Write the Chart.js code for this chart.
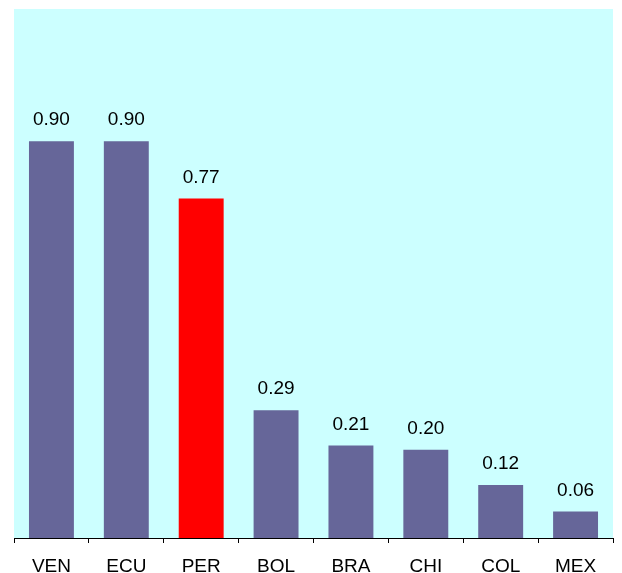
<!DOCTYPE html>
<html>
<head>
<meta charset="utf-8">
<script src="https://cdn.jsdelivr.net/npm/chart.js@4/dist/chart.umd.min.js"></script>
<style>
  html, body { margin: 0; padding: 0; background: #fff; }
  #wrap { width: 622px; height: 573px; position: relative; }
</style>
</head>
<body>
<div id="wrap"><canvas id="c"></canvas></div>
<script>
const countries = ['VEN', 'ECU', 'PER', 'BOL', 'BRA', 'CHI', 'COL', 'MEX'];
const values    = [0.90, 0.90, 0.77, 0.29, 0.21, 0.20, 0.12, 0.06];
const barColors = ['#666699', '#666699', '#FF0000', '#666699', '#666699', '#666699', '#666699', '#666699'];

const FONT = '"Liberation Sans", Arial, sans-serif';

// fond cyan de la zone de tracé
const plotBg = {
  id: 'plotBg',
  beforeDraw(chart) {
    const { ctx, chartArea: a } = chart;
    ctx.save();
    ctx.fillStyle = '#CCFFFF';
    ctx.fillRect(a.left, a.top, a.right - a.left, a.bottom - a.top);
    ctx.restore();
  }
};

// étiquettes de valeur au-dessus des barres
const valueLabels = {
  id: 'valueLabels',
  afterDatasetsDraw(chart) {
    const { ctx } = chart;
    const meta = chart.getDatasetMeta(0);
    ctx.save();
    ctx.font = '19px ' + FONT;
    ctx.fillStyle = '#000';
    ctx.textAlign = 'center';
    ctx.textBaseline = 'middle';
    meta.data.forEach((bar, i) => {
      ctx.fillText(values[i].toFixed(2), bar.x, bar.y - 21);
    });
    ctx.restore();
  }
};

new Chart(document.getElementById('c'), {
  type: 'bar',
  data: {
    labels: countries,
    datasets: [{
      data: values,
      backgroundColor: barColors,
      borderWidth: 0,
      barPercentage: 0.6,
      categoryPercentage: 1.0,
    }]
  },
  options: {
    responsive: true,
    maintainAspectRatio: false,
    animation: false,
    layout: { padding: { left: 14, right: 9, top: 9, bottom: 0 } },
    plugins: { legend: { display: false }, tooltip: { enabled: false } },
    scales: {
      x: {
        offset: true,
        grid: { offset: true, drawOnChartArea: false, drawTicks: true, tickLength: 5, color: '#000' },
        border: { display: true, color: '#000', width: 1 },
        ticks: { color: '#000', padding: 12, font: { size: 19, family: FONT } },
        afterFit: s => { s.height = 35; },
      },
      y: {
        display: false,
        min: 0,
        max: 1.2,
      }
    }
  },
  plugins: [plotBg, valueLabels]
});
</script>
</body>
</html>
